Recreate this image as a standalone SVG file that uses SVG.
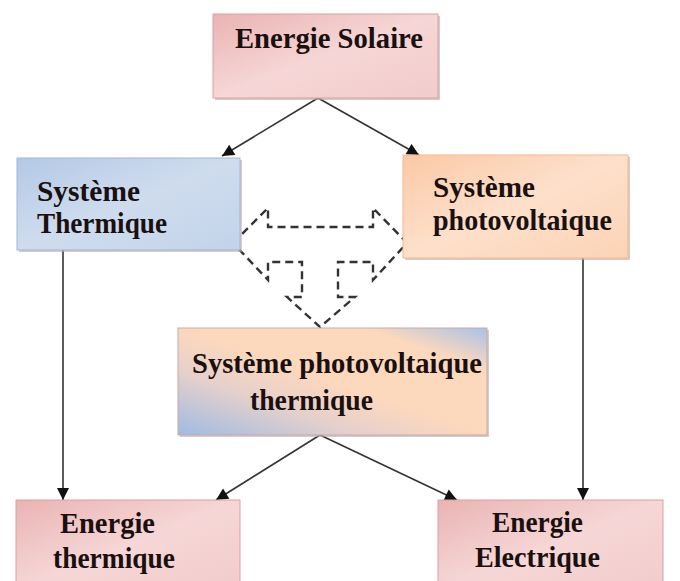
<svg xmlns="http://www.w3.org/2000/svg" width="680" height="581" viewBox="0 0 680 581">
<style>
.t{font-family:"Liberation Serif","Times New Roman",serif;font-weight:bold;font-size:29px;fill:#1a1010}
.c{stroke:#333;stroke-width:1.6;fill:none}
.d{stroke:#333;stroke-width:2.4;fill:none;stroke-dasharray:8 5}
.sh{fill:#b9a8a8;opacity:0.6}
</style>
<defs>
<linearGradient id="pink" x1="0" y1="0" x2="1" y2="1">
<stop offset="0" stop-color="#eab3b3"/><stop offset="0.5" stop-color="#f6d6d6"/><stop offset="1" stop-color="#f2cccc"/>
</linearGradient>
<linearGradient id="blue" x1="0" y1="0" x2="1" y2="1">
<stop offset="0" stop-color="#b4c9e6"/><stop offset="0.5" stop-color="#cfdcee"/><stop offset="1" stop-color="#c2d3ea"/>
</linearGradient>
<linearGradient id="peach" x1="0" y1="0" x2="1" y2="1">
<stop offset="0" stop-color="#fbc9a6"/><stop offset="0.5" stop-color="#fde0cb"/><stop offset="1" stop-color="#fcd3b5"/>
</linearGradient>
<linearGradient id="mix" x1="0" y1="1" x2="1" y2="0">
<stop offset="0" stop-color="#9fbbe2"/><stop offset="0.3" stop-color="#e6d0cc"/><stop offset="0.5" stop-color="#fcd8bd"/><stop offset="0.8" stop-color="#fcd8bd"/><stop offset="1" stop-color="#a9c2e6"/>
</linearGradient>
<marker id="ah" viewBox="0 0 10 10" refX="10" refY="5" markerWidth="13" markerHeight="12" orient="auto" markerUnits="userSpaceOnUse">
<path d="M0,0 L10,5 L0,10 Z" fill="#111"/>
</marker>
</defs>
<rect width="680" height="581" fill="#fff"/>

<g id="connectors">
<line class="c" x1="318" y1="98" x2="222" y2="156" marker-end="url(#ah)"/>
<line class="c" x1="318" y1="98" x2="419" y2="155" marker-end="url(#ah)"/>
<line class="c" x1="63" y1="250" x2="63" y2="500" marker-end="url(#ah)"/>
<line class="c" x1="583" y1="258" x2="583" y2="500" marker-end="url(#ah)"/>
<line class="c" x1="320" y1="435" x2="216" y2="500" marker-end="url(#ah)"/>
<line class="c" x1="320" y1="435" x2="457" y2="500" marker-end="url(#ah)"/>
<path class="d" d="M233,243 L268,208 L268,227 L373,227 L373,208 L407,243 L373,280 L373,262 L338,262 L338,297 L355,297 L320,327 L287,297 L302,297 L302,262 L268,262 L268,280 Z"/>
</g>

<g id="solaire">
<rect class="sh" x="215" y="16" width="225" height="84"/>
<rect x="213" y="14" width="225" height="84" fill="url(#pink)" stroke="#dca0a0" stroke-width="1"/>
<text class="t" x="235" y="48" textLength="188" lengthAdjust="spacingAndGlyphs">Energie Solaire</text>
</g>

<g id="thermique">
<rect class="sh" x="19" y="160" width="223" height="92"/>
<rect x="17" y="158" width="223" height="92" fill="url(#blue)" stroke="#9fb7d9" stroke-width="1"/>
<text class="t" x="37" y="201" textLength="103" lengthAdjust="spacingAndGlyphs">Système</text>
<text class="t" x="37" y="233" textLength="130" lengthAdjust="spacingAndGlyphs">Thermique</text>
</g>

<g id="photovoltaique">
<rect class="sh" x="405" y="157" width="225" height="103"/>
<rect x="403" y="155" width="225" height="103" fill="url(#peach)" stroke="#f4b990" stroke-width="1"/>
<text class="t" x="433" y="197" textLength="102" lengthAdjust="spacingAndGlyphs">Système</text>
<text class="t" x="433" y="230" textLength="179" lengthAdjust="spacingAndGlyphs">photovoltaique</text>
</g>

<g id="pvt">
<rect class="sh" x="180" y="330" width="309" height="107"/>
<rect x="178" y="328" width="309" height="107" fill="url(#mix)" stroke="#c9a9a9" stroke-width="1"/>
<text class="t" x="192" y="373" textLength="290" lengthAdjust="spacingAndGlyphs">Système photovoltaique</text>
<text class="t" x="250" y="410" textLength="123" lengthAdjust="spacingAndGlyphs">thermique</text>
</g>

<g id="energie-thermique">
<rect x="16" y="500" width="224" height="90" fill="url(#pink)" stroke="#dca0a0" stroke-width="1"/>
<text class="t" x="60" y="533" textLength="95" lengthAdjust="spacingAndGlyphs">Energie</text>
<text class="t" x="53" y="568" textLength="122" lengthAdjust="spacingAndGlyphs">thermique</text>
</g>

<g id="energie-electrique">
<rect x="438" y="500" width="225" height="90" fill="url(#pink)" stroke="#dca0a0" stroke-width="1"/>
<text class="t" x="492" y="532" textLength="91" lengthAdjust="spacingAndGlyphs">Energie</text>
<text class="t" x="475" y="567" textLength="125" lengthAdjust="spacingAndGlyphs">Electrique</text>
</g>
</svg>
